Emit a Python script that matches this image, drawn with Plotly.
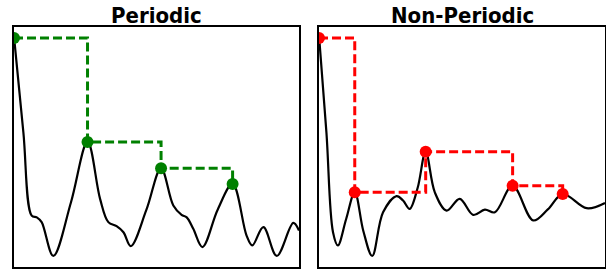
import plotly.graph_objects as go

# Periodic panel: black curve
per_x = [0, 3.3, 6.2, 8.0, 9.7, 13.8, 20.0, 25.8, 30.2, 33.1, 36.0, 38.4, 41.0, 46.5, 51.6, 55.9, 58.8, 60.6, 62.9, 66.1, 71.5, 76.7, 81.6, 83.6, 87.5, 92.2, 98.0, 100]
per_y = [0.96, 0.56, 0.214, 0.207, 0.187, 0.046, 0.27, 0.521, 0.284, 0.187, 0.17, 0.145, 0.087, 0.24, 0.411, 0.256, 0.217, 0.207, 0.159, 0.083, 0.24, 0.346, 0.131, 0.09, 0.166, 0.046, 0.184, 0.152]
per_peak_x = [0, 25.8, 51.6, 76.7]
per_peak_y = [0.954, 0.521, 0.411, 0.346]

# Non-periodic panel: black curve
non_x = [0, 2.6, 4.9, 6.6, 9.5, 12.5, 15.5, 18.6, 22.4, 27.1, 29.4, 31.7, 34.5, 37.3, 40.5, 44.6, 49.2, 53.9, 58.0, 61.5, 67.7, 74.9, 80.0, 85.2, 93.6, 100]
non_y = [0.965, 0.56, 0.145, 0.09, 0.2, 0.311, 0.15, 0.046, 0.228, 0.295, 0.277, 0.242, 0.33, 0.48, 0.311, 0.235, 0.284, 0.217, 0.239, 0.228, 0.339, 0.194, 0.24, 0.304, 0.245, 0.267]
non_peak_x = [0, 12.5, 37.3, 67.7, 85.2]
non_peak_y = [0.954, 0.311, 0.48, 0.339, 0.304]

titles = ["Periodic", "Non-Periodic"]

fig = go.Figure()
fig.add_trace(go.Scatter(x=per_x, y=per_y, mode="lines", line=dict(color="black", width=2.2, shape="spline", smoothing=1.0), xaxis="x", yaxis="y", showlegend=False))
fig.add_trace(go.Scatter(x=per_peak_x, y=per_peak_y, mode="lines+markers", line=dict(color="#008000", width=3, dash="9px,4px", shape="hv"), marker=dict(color="#008000", size=12), xaxis="x", yaxis="y", showlegend=False))
fig.add_trace(go.Scatter(x=non_x, y=non_y, mode="lines", line=dict(color="black", width=2.2, shape="spline", smoothing=1.0), xaxis="x2", yaxis="y2", showlegend=False))
fig.add_trace(go.Scatter(x=non_peak_x, y=non_peak_y, mode="lines+markers", line=dict(color="#ff0000", width=3, dash="9px,4px", shape="hv"), marker=dict(color="#ff0000", size=12), xaxis="x2", yaxis="y2", showlegend=False))

ax = dict(showticklabels=False, ticks="", showgrid=False, zeroline=False, showline=True, linecolor="black", linewidth=2, mirror=True)
W, H = 606, 271
yd = [(H - 267) / H, (H - 27) / H]
tfont = dict(family="DejaVu Sans Condensed, DejaVu Sans", size=22, color="black")
fig.update_layout(
    width=W, height=H, margin=dict(l=0, r=0, t=0, b=0),
    paper_bgcolor="white", plot_bgcolor="white",
    xaxis=dict(domain=[14 / W, 299 / W], range=[0, 100], **ax),
    yaxis=dict(domain=yd, range=[0, 1], **ax),
    xaxis2=dict(domain=[319 / W, 605 / W], range=[0, 100], anchor="y2", **ax),
    yaxis2=dict(domain=yd, range=[0, 1], anchor="x2", **ax),
    annotations=[
        dict(text="<b>%s</b>" % titles[0], x=(14 + 299) / 2 / W, y=(H - 15.5) / H, xref="paper", yref="paper", xanchor="center", yanchor="middle", showarrow=False, font=tfont),
        dict(text="<b>%s</b>" % titles[1], x=(319 + 605) / 2 / W, y=(H - 15.5) / H, xref="paper", yref="paper", xanchor="center", yanchor="middle", showarrow=False, font=tfont),
    ],
)
fig.write_html("out.html", config={"displayModeBar": False},
               post_script="document.body.style.margin='0';document.body.style.overflow='hidden';")
